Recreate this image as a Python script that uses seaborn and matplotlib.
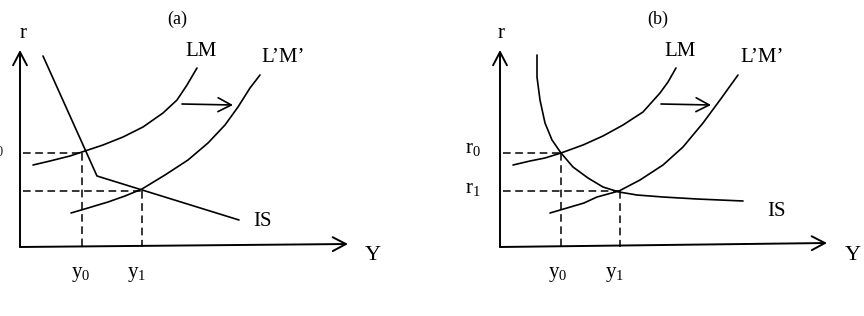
import matplotlib
matplotlib.use("Agg")
import matplotlib.pyplot as plt
import seaborn as sns

# ---- data (diagram coordinates; y grows downward) ----
# Panel (a)
lm_a_x = [33, 50, 70, 85, 103, 123, 143, 163, 177, 187, 197]
lm_a_y = [165, 161, 156, 151, 145, 137, 127, 113, 100, 85, 68]
lpmp_a_x = [71, 88, 108, 125, 142, 165, 188, 208, 225, 238, 250, 260]
lpmp_a_y = [213, 208, 202, 196, 189, 175, 160, 143, 125, 107, 88, 75]
is_a_x = [43, 97, 239]
is_a_y = [56, 176, 220]
eq_a_x = [82, 142]          # y0, y1
eq_a_y = [153, 191]         # r0, r1
origin_a = (20, 247)
yaxis_top_a = (20, 50)
xaxis_end_a = (348, 244)
shift_a = [(182, 104), (233, 105)]

# Panel (b)
lm_b_x = [513, 530, 545, 561, 583, 603, 623, 643, 660, 668, 676]
lm_b_y = [165, 161, 158, 153, 145, 136, 125, 112, 93, 82, 68]
lpmp_b_x = [550, 567, 584, 597, 619, 640, 663, 683, 703, 720, 738]
lpmp_b_y = [213, 208, 203, 197, 191, 180, 165, 147, 123, 100, 75]
is_b_x = [537, 537, 540, 545, 552, 561, 573, 588, 603, 619, 637, 663, 697, 743]
is_b_y = [55, 77, 100, 123, 140, 153, 167, 178, 187, 192, 195, 197, 199, 201]
eq_b_x = [561, 620]
eq_b_y = [153, 191]
origin_b = (500, 247)
yaxis_top_b = (500, 50)
xaxis_end_b = (827, 243)
shift_b = [(661, 104), (711, 105)]

sns.set_style("white")
plt.rcParams['font.family'] = ['Liberation Serif', 'DejaVu Serif']
plt.rcParams['mathtext.fontset'] = 'custom'
plt.rcParams['mathtext.rm'] = 'Liberation Serif'
plt.rcParams['mathtext.it'] = 'Liberation Serif:italic'

fig = plt.figure(figsize=(8.64, 3.16), dpi=100)
ax = fig.add_axes([0, 0, 1, 1])
ax.set_xlim(0, 864)
ax.set_ylim(316, 0)
ax.axis('off')

CURVE_LW = 1.2
AXIS_LW = 1.4
arrow_kw = dict(arrowstyle='->,head_length=0.95,head_width=0.5', mutation_scale=10,
                color='black', shrinkA=0, shrinkB=0)


def curve(x, y):
    sns.lineplot(x=x, y=y, ax=ax, sort=False, estimator=None, color='black',
                 lw=CURVE_LW, legend=False)


def panel(lm_x, lm_y, lp_x, lp_y, is_x, is_y, eq_x, eq_y, origin, ytop, xend, shift):
    # axes with arrows
    ax.annotate('', xy=ytop, xytext=origin, arrowprops=dict(lw=AXIS_LW, **arrow_kw))
    ax.annotate('', xy=xend, xytext=origin, arrowprops=dict(lw=AXIS_LW, **arrow_kw))
    curve(lm_x, lm_y)
    curve(lp_x, lp_y)
    curve(is_x, is_y)
    # shift arrow
    ax.annotate('', xy=shift[1], xytext=shift[0], arrowprops=dict(lw=CURVE_LW, **arrow_kw))
    # dashed guides
    for ex, ey in zip(eq_x, eq_y):
        ax.plot([origin[0] + 3, ex], [ey, ey], color='black', lw=1.1, ls=(0, (5, 3)))
        ax.plot([ex, ex], [ey, origin[1]], color='black', lw=1.1, ls=(0, (5, 3)))


panel(lm_a_x, lm_a_y, lpmp_a_x, lpmp_a_y, is_a_x, is_a_y, eq_a_x, eq_a_y,
      origin_a, yaxis_top_a, xaxis_end_a, shift_a)
panel(lm_b_x, lm_b_y, lpmp_b_x, lpmp_b_y, is_b_x, is_b_y, eq_b_x, eq_b_y,
      origin_b, yaxis_top_b, xaxis_end_b, shift_b)

fs = 15
txt = dict(ha='center', va='center', color='black', fontsize=fs)
# panel (a) text
ax.text(177, 19, '(a)', **{**txt, 'fontsize': 13})
ax.text(23, 34, 'r', **txt)
ax.text(201, 51, 'LM', **txt)
ax.text(283, 58, 'L\u2019M\u2019', **txt)
ax.text(263, 221, 'IS', **txt)
ax.text(373, 256, 'Y', **{**txt, 'fontsize': 16})
ax.text(81, 274, 'y$_0$', **txt)
ax.text(137, 274, 'y$_1$', **txt)
ax.text(4, 148, 'r$_0$', ha='right', va='center', fontsize=fs)
# panel (b) text
ax.text(658, 19, '(b)', **{**txt, 'fontsize': 13})
ax.text(501, 34, 'r', **txt)
ax.text(680, 51, 'LM', **txt)
ax.text(762, 58, 'L\u2019M\u2019', **txt)
ax.text(777, 212, 'IS', **txt)
ax.text(853, 256, 'Y', **{**txt, 'fontsize': 16})
ax.text(558, 274, 'y$_0$', **txt)
ax.text(615, 274, 'y$_1$', **txt)
ax.text(473, 148, 'r$_0$', **txt)
ax.text(473, 188, 'r$_1$', **txt)

fig.savefig('out.png', dpi=100)
